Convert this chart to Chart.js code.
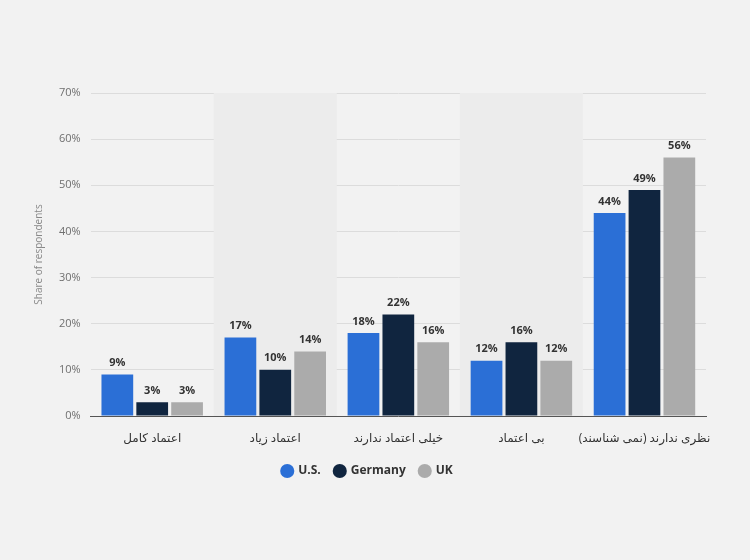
<!DOCTYPE html>
<html>
<head>
<meta charset="utf-8">
<script src="https://cdn.jsdelivr.net/npm/chart.js@4/dist/chart.umd.min.js"></script>
<style>
  html, body { margin: 0; padding: 0; background: #f2f2f2; }
  #wrap { width: 750px; height: 560px; }
</style>
</head>
<body>
<div id="wrap"><canvas id="chart" width="750" height="560"></canvas></div>
<script>
const categories = ['اعتماد کامل', 'اعتماد زیاد', 'خیلی اعتماد ندارند', 'بی اعتماد', 'نظری ندارند (نمی شناسند)'];
const usValues = [9, 17, 18, 12, 44];
const germanyValues = [3, 10, 22, 16, 49];
const ukValues = [3, 14, 16, 12, 56];
const yTicks = [0, 10, 20, 30, 40, 50, 60, 70];

const fontFamily = '"Open Sans", "DejaVu Sans", sans-serif';

// alternating shaded bands behind categories 2 and 4
const bandPlugin = {
  id: 'bands',
  beforeDatasetsDraw(chart) {
    const { ctx, chartArea, scales } = chart;
    const x = scales.x;
    const w = x.width / categories.length;
    ctx.save();
    ctx.fillStyle = '#ececec';
    categories.forEach((c, i) => {
      if (i % 2 === 1) {
        const cx = x.getPixelForValue(i);
        ctx.fillRect(cx - w / 2, chartArea.top, w, chartArea.bottom - chartArea.top);
      }
    });
    ctx.restore();
  }
};

// value labels above each bar
const valueLabels = {
  id: 'valueLabels',
  afterDatasetsDraw(chart) {
    const { ctx } = chart;
    ctx.save();
    ctx.font = 'bold 11px ' + fontFamily;
    ctx.fillStyle = '#333333';
    ctx.textAlign = 'center';
    ctx.textBaseline = 'bottom';
    chart.data.datasets.forEach((ds, di) => {
      chart.getDatasetMeta(di).data.forEach((bar, i) => {
        ctx.fillText(ds.data[i] + '%', bar.x, bar.y - 6);
      });
    });
    ctx.restore();
  }
};

new Chart(document.getElementById('chart').getContext('2d'), {
  type: 'bar',
  data: {
    labels: categories,
    datasets: [
      { label: 'U.S.', data: usValues, backgroundColor: '#2b6fd6' },
      { label: 'Germany', data: germanyValues, backgroundColor: '#10253f' },
      { label: 'UK', data: ukValues, backgroundColor: '#ababab' }
    ]
  },
  options: {
    responsive: false,
    animation: false,
    layout: { padding: { left: 29, right: 44, top: 93, bottom: 73 } },
    datasets: {
      bar: { categoryPercentage: 0.85, barPercentage: 0.91 }
    },
    plugins: {
      legend: {
        position: 'bottom',
        labels: {
          usePointStyle: true,
          pointStyle: 'circle',
          boxWidth: 10,
          boxHeight: 10,
          padding: 14,
          color: '#333333',
          font: { family: fontFamily, size: 12, weight: 'bold' }
        }
      },
      tooltip: { enabled: false }
    },
    scales: {
      x: {
        afterFit(scale) { scale.height = 35; },
        grid: { display: false },
        border: { color: '#555555', width: 1 },
        ticks: {
          color: '#333333',
          padding: 7,
          autoSkip: false,
          maxRotation: 0,
          font: { family: fontFamily, size: 12 }
        }
      },
      y: {
        min: 0,
        max: yTicks[yTicks.length - 1],
        afterBuildTicks(axis) { axis.ticks = yTicks.map(v => ({ value: v })); },
        grid: { color: '#dcdcdc', drawTicks: false },
        border: { display: false },
        title: {
          display: true,
          text: 'Share of respondents',
          color: '#888888',
          font: { family: fontFamily, size: 10 }
        },
        ticks: {
          color: '#6f6f6f',
          padding: 10,
          font: { family: fontFamily, size: 11 },
          callback: v => v + '%'
        }
      }
    }
  },
  plugins: [bandPlugin, valueLabels]
});
</script>
</body>
</html>
